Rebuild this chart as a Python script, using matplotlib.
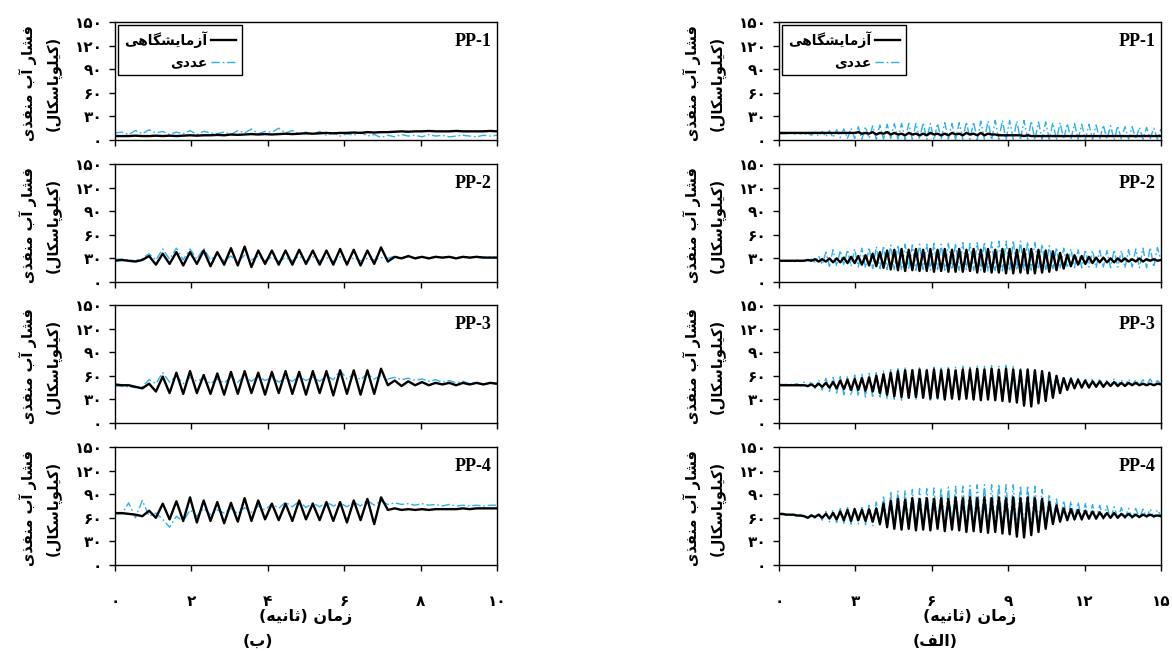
import numpy as np
import matplotlib
matplotlib.use('Agg')
import matplotlib.pyplot as plt
from matplotlib.ticker import FuncFormatter

plt.rcParams['font.family'] = ['DejaVu Sans']

# ---- data (pore water pressure, kPa) ----
# (ب) column: 0-10 s, (الف) column: 0-15 s
pp1_b_exp = [5, 5, 5, 5.5, 5, 5, 5.5, 5, 5.5, 5,
             5.5, 6, 5.5, 6, 6, 6.5, 6, 7, 6.5, 7,
             7.5, 7, 7.5, 7, 7.5, 8, 7.5, 8, 8.5, 8,
             8.5, 9, 8.5, 9, 9, 9.5, 9, 10, 9.5, 10,
             10, 10.5, 11, 10.5, 11, 11, 11.5, 11, 11, 11,
             11.5, 11, 11, 11, 11, 11.5, 11]
pp1_b_num = [9, 10, 7, 12, 8, 13, 9, 11, 7, 10,
             8, 12, 7, 11, 9, 8, 10, 7, 12, 9,
             14, 8, 11, 10, 15, 9, 12, 8, 10, 7,
             11, 6, 9, 5, 8, 6, 10, 5, 7, 3,
             6, 4, 7, 5, 6, 4, 7, 5, 6, 4,
             5, 6, 5, 4, 6, 5, 6]
pp2_b_exp = [27, 28, 27, 26, 28, 33, 22, 36, 23, 38,
             21, 38, 23, 40, 20, 38, 22, 43, 21, 45,
             19, 40, 23, 40, 22, 40, 22, 41, 23, 40,
             22, 40, 22, 42, 22, 41, 21, 40, 23, 44,
             26, 32, 30, 33, 30, 32, 30, 32, 31, 32,
             30, 32, 31, 32, 31, 31, 31]
pp2_b_num = [29, 29, 28, 27, 30, 36, 28, 42, 29, 43,
             28, 42, 29, 43, 28, 36, 27, 33, 26, 34,
             28, 33, 27, 32, 26, 31, 27, 33, 26, 32,
             27, 31, 26, 32, 25, 31, 27, 30, 28, 31,
             30, 33, 31, 32, 31, 32, 31, 32, 31, 32,
             31, 32, 31, 32, 32, 32, 31]
pp3_b_exp = [49, 48, 48, 46, 44, 50, 40, 59, 38, 64,
             37, 66, 38, 61, 37, 63, 36, 65, 37, 66,
             38, 64, 36, 65, 38, 66, 37, 65, 36, 66,
             38, 66, 35, 67, 37, 67, 36, 67, 37, 69,
             48, 54, 47, 53, 48, 52, 48, 51, 49, 51,
             48, 51, 49, 51, 49, 51, 50]
pp3_b_num = [47, 47, 46, 45, 46, 55, 50, 64, 52, 60,
             50, 58, 53, 57, 50, 56, 51, 58, 52, 60,
             53, 59, 54, 58, 52, 57, 53, 59, 54, 58,
             53, 60, 55, 67, 56, 62, 55, 63, 56, 60,
             56, 58, 55, 57, 54, 56, 53, 55, 52, 54,
             51, 53, 50, 52, 49, 51, 49]
pp4_b_exp = [66, 66, 65, 64, 62, 69, 60, 78, 58, 81,
             56, 86, 54, 82, 56, 80, 53, 79, 55, 85,
             56, 82, 58, 78, 57, 78, 56, 82, 58, 78,
             57, 80, 56, 80, 54, 82, 57, 84, 52, 86,
             70, 72, 70, 71, 70, 71, 70, 71, 71, 71,
             71, 72, 71, 72, 72, 72, 72]
pp4_b_num = [65, 65, 79, 60, 82, 62, 66, 58, 48, 62,
             55, 70, 62, 72, 64, 70, 66, 72, 65, 73,
             67, 75, 70, 78, 72, 80, 74, 81, 73, 79,
             74, 80, 75, 79, 74, 80, 75, 82, 76, 81,
             77, 79, 77, 78, 76, 78, 76, 77, 75, 77,
             75, 76, 75, 76, 75, 76, 76]

pp1_a_exp = [9, 9, 9, 9, 9, 9, 9, 9, 9, 9,
             9, 9, 9, 9, 9, 9, 9, 9, 9, 9,
             9, 9, 10, 8, 9, 8, 10, 7, 9, 8,
             10, 7, 9, 7, 8, 6, 9, 7, 8, 6,
             8, 6, 9, 7, 8, 6, 8, 6, 9, 7,
             8, 6, 9, 7, 8, 6, 9, 6, 8, 7,
             7, 6, 6, 6, 6, 6, 6, 6, 5, 6,
             5, 5, 5, 5, 5, 5, 5, 5, 5, 5,
             5, 5, 5, 5, 5, 5, 5, 5, 5, 5,
             5, 5, 5, 5, 5, 5, 5, 5, 5, 5,
             5, 5, 5, 5, 5, 5, 5]
pp1_a_num = [8, 8, 8, 9, 7, 9, 8, 7, 9, 6,
             10, 5, 11, 4, 12, 3, 13, 3, 14, 2,
             15, 2, 17, 1, 17, 2, 18, 1, 19, 1,
             20, 2, 21, 1, 21, 0, 21, 1, 21, 1,
             22, 1, 21, 0, 21, 1, 22, 1, 21, 0,
             22, 1, 23, 1, 23, 0, 24, 1, 24, 0,
             25, 1, 25, 0, 25, 1, 24, 0, 25, 1,
             24, 0, 23, 1, 23, 1, 22, 0, 22, 1,
             21, 1, 21, 1, 20, 0, 20, 1, 19, 1,
             19, 1, 18, 0, 18, 1, 17, 1, 17, 1,
             16, 1, 16, 2, 15, 1, 14]
pp2_a_exp = [27, 27, 27, 27, 27, 27, 27, 27, 28, 27,
             29, 26, 29, 26, 30, 25, 30, 25, 31, 24,
             32, 24, 33, 22, 34, 21, 36, 20, 38, 18,
             40, 16, 41, 15, 42, 14, 41, 15, 42, 14,
             41, 14, 42, 13, 41, 14, 42, 13, 41, 13,
             42, 13, 41, 14, 42, 12, 41, 13, 42, 12,
             41, 12, 42, 11, 42, 11, 41, 12, 42, 11,
             42, 11, 41, 12, 40, 13, 39, 15, 37, 17,
             35, 20, 34, 22, 33, 23, 32, 24, 31, 25,
             31, 25, 30, 25, 30, 26, 30, 26, 29, 26,
             30, 26, 29, 27, 29, 27, 28]
pp2_a_num = [27, 27, 27, 27, 25, 28, 26, 28, 27, 29,
             25, 33, 22, 38, 20, 41, 20, 40, 21, 41,
             20, 42, 19, 43, 18, 44, 17, 45, 17, 46,
             16, 47, 16, 47, 15, 48, 16, 47, 15, 48,
             16, 48, 15, 49, 16, 48, 15, 49, 16, 49,
             15, 50, 16, 49, 15, 50, 15, 51, 14, 51,
             15, 52, 14, 52, 14, 53, 15, 52, 14, 51,
             15, 50, 16, 48, 16, 46, 17, 44, 17, 43,
             18, 42, 18, 41, 18, 41, 19, 40, 18, 40,
             19, 40, 18, 41, 19, 40, 18, 41, 19, 42,
             18, 43, 18, 44, 19, 44, 27]
pp3_a_exp = [48, 48, 48, 48, 48, 48, 48, 48, 47, 49,
             46, 50, 46, 51, 45, 52, 44, 54, 43, 55,
             42, 56, 42, 57, 41, 58, 40, 60, 38, 62,
             36, 64, 34, 66, 33, 67, 32, 67, 33, 68,
             32, 67, 31, 68, 32, 67, 30, 68, 31, 67,
             30, 68, 31, 68, 30, 69, 29, 68, 30, 69,
             29, 68, 28, 69, 27, 68, 26, 67, 22, 68,
             21, 67, 25, 66, 28, 64, 32, 60, 38, 57,
             42, 56, 44, 55, 45, 54, 45, 53, 46, 53,
             46, 52, 47, 52, 47, 51, 47, 51, 48, 51,
             48, 50, 48, 50, 48, 50, 49]
pp3_a_num = [49, 49, 49, 49, 49, 50, 47, 52, 46, 53,
             44, 55, 42, 57, 40, 58, 38, 59, 36, 60,
             35, 61, 34, 62, 33, 63, 32, 64, 31, 66,
             30, 68, 30, 69, 29, 70, 30, 70, 29, 71,
             30, 70, 29, 71, 30, 70, 29, 72, 30, 71,
             29, 72, 30, 71, 29, 73, 30, 72, 29, 73,
             30, 72, 29, 73, 30, 72, 31, 71, 32, 70,
             33, 68, 35, 66, 37, 64, 40, 61, 42, 59,
             44, 58, 45, 57, 46, 57, 46, 56, 47, 56,
             47, 55, 47, 56, 48, 55, 47, 56, 48, 55,
             48, 55, 48, 56, 48, 54, 50]
pp4_a_exp = [65, 65, 64, 64, 64, 63, 63, 62, 60, 63,
             61, 64, 60, 65, 59, 66, 58, 68, 57, 70,
             56, 71, 57, 70, 56, 71, 55, 72, 52, 78,
             48, 82, 46, 84, 45, 83, 46, 85, 44, 84,
             45, 85, 44, 84, 46, 85, 43, 84, 45, 86,
             44, 85, 42, 86, 43, 85, 42, 86, 41, 85,
             42, 86, 40, 85, 39, 86, 36, 85, 35, 86,
             38, 85, 42, 84, 46, 80, 52, 76, 55, 72,
             57, 71, 58, 70, 58, 69, 59, 68, 59, 67,
             60, 66, 60, 66, 60, 65, 61, 65, 61, 64,
             61, 64, 62, 64, 62, 63, 62]
pp4_a_num = [64, 64, 64, 63, 63, 62, 62, 61, 60, 64,
             59, 66, 57, 68, 55, 70, 54, 72, 53, 73,
             52, 74, 52, 75, 51, 76, 50, 80, 49, 88,
             48, 92, 48, 94, 47, 95, 48, 96, 47, 97,
             48, 97, 47, 98, 48, 98, 47, 99, 48, 100,
             47, 100, 48, 101, 47, 102, 48, 102, 47, 102,
             48, 103, 47, 102, 46, 102, 45, 101, 45, 101,
             46, 100, 48, 96, 50, 90, 53, 84, 55, 82,
             56, 81, 57, 80, 57, 78, 58, 77, 58, 76,
             58, 75, 58, 74, 59, 73, 59, 72, 59, 72,
             59, 71, 60, 71, 60, 70, 62]

panel_names = ['PP-1', 'PP-2', 'PP-3', 'PP-4']
col_b = [(pp1_b_exp, pp1_b_num), (pp2_b_exp, pp2_b_num),
         (pp3_b_exp, pp3_b_num), (pp4_b_exp, pp4_b_num)]
col_a = [(pp1_a_exp, pp1_a_num), (pp2_a_exp, pp2_a_num),
         (pp3_a_exp, pp3_a_num), (pp4_a_exp, pp4_a_num)]
t_end_b, t_end_a = 10, 15
xticks_b = [0, 2, 4, 6, 8, 10]
xticks_a = [0, 3, 6, 9, 12, 15]
yticks = [0, 30, 60, 90, 120, 150]

lab_exp = 'آزمایشگاهی'
lab_num = 'عددی'
ylab_1 = 'فشار آب منفذی'
ylab_2 = '(کیلوپاسکال)'
xlab = 'زمان (ثانیه)'
cap_b = '(ب)'
cap_a = '(الف)'

# ---- minimal persian shaping (matplotlib draws no contextual forms) ----
FORMS = {
    'ا': ('\uFE8D', '\uFE8E', None, None),
    'آ': ('\uFE81', '\uFE82', None, None),
    'ب': ('\uFE8F', '\uFE90', '\uFE91', '\uFE92'),
    'پ': ('\uFB56', '\uFB57', '\uFB58', '\uFB59'),
    'ث': ('\uFE99', '\uFE9A', '\uFE9B', '\uFE9C'),
    'د': ('\uFEA9', '\uFEAA', None, None),
    'ذ': ('\uFEAB', '\uFEAC', None, None),
    'ر': ('\uFEAD', '\uFEAE', None, None),
    'ز': ('\uFEAF', '\uFEB0', None, None),
    'س': ('\uFEB1', '\uFEB2', '\uFEB3', '\uFEB4'),
    'ش': ('\uFEB5', '\uFEB6', '\uFEB7', '\uFEB8'),
    'ع': ('\uFEC9', '\uFECA', '\uFECB', '\uFECC'),
    'ف': ('\uFED1', '\uFED2', '\uFED3', '\uFED4'),
    'ک': ('\uFB8E', '\uFB8F', '\uFB90', '\uFB91'),
    'گ': ('\uFB92', '\uFB93', '\uFB94', '\uFB95'),
    'ل': ('\uFEDD', '\uFEDE', '\uFEDF', '\uFEE0'),
    'م': ('\uFEE1', '\uFEE2', '\uFEE3', '\uFEE4'),
    'ن': ('\uFEE5', '\uFEE6', '\uFEE7', '\uFEE8'),
    'ه': ('\uFEE9', '\uFEEA', '\uFEEB', '\uFEEC'),
    'و': ('\uFEED', '\uFEEE', None, None),
    'ی': ('\uFBFC', '\uFBFD', '\uFBFE', '\uFBFF'),
}


def fa(s):
    out = []
    for i, ch in enumerate(s):
        if ch not in FORMS:
            out.append(ch)
            continue
        prev = s[i - 1] if i > 0 else ''
        nxt = s[i + 1] if i + 1 < len(s) else ''
        jp = prev in FORMS and FORMS[prev][2] is not None
        jn = nxt in FORMS and FORMS[ch][2] is not None
        iso, fin, ini, med = FORMS[ch]
        if jp and jn:
            out.append(med)
        elif jp:
            out.append(fin)
        elif jn:
            out.append(ini)
        else:
            out.append(iso)
    vis = ''.join(reversed(out))
    return vis.translate(str.maketrans('()', ')('))


def fa_digits(v, pos=None):
    return str(int(round(v))).translate(str.maketrans('0123456789', '۰۱۲۳۴۵۶۷۸۹'))


BLUE = '#2DB0EC'
W, H = 1172, 651
fig = plt.figure(figsize=(W / 100, H / 100), dpi=100)

ax_w = 382 / W
ax_h = 118 / H
left_x = {'b': 115 / W, 'a': 779 / W}
row_bottom = [1 - 140 / H, 1 - 282 / H, 1 - 423 / H, 1 - 565 / H]

for key, col, t_end, xt in [('b', col_b, t_end_b, xticks_b), ('a', col_a, t_end_a, xticks_a)]:
    for r, (exp, num) in enumerate(col):
        ax = fig.add_axes([left_x[key], row_bottom[r], ax_w, ax_h])
        t_num = np.linspace(0, t_end, len(num))
        t_exp = np.linspace(0, t_end, len(exp))
        ln_num, = ax.plot(t_num, num, color=BLUE, lw=1.0,
                          dashes=(6, 2, 1.2, 2), zorder=2)
        ln_exp, = ax.plot(t_exp, exp, color='black', lw=1.7, zorder=3)
        ax.set_xlim(0, t_end)
        ax.set_ylim(0, 150)
        ax.set_xticks(xt)
        ax.set_yticks(yticks)
        ax.yaxis.set_major_formatter(FuncFormatter(fa_digits))
        ax.xaxis.set_major_formatter(FuncFormatter(fa_digits))
        ax.tick_params(axis='both', direction='out', length=4, width=1, color='black')
        ax.tick_params(axis='y', labelsize=11, pad=5)
        ax.tick_params(axis='x', labelsize=11, pad=17)
        for lbl in ax.get_yticklabels() + ax.get_xticklabels():
            lbl.set_fontweight('bold')
        for sp in ax.spines.values():
            sp.set_linewidth(1.0)
            sp.set_color('black')
        if r < 3:
            ax.tick_params(axis='x', labelbottom=False)
        ax.set_ylabel(fa(ylab_1) + '\n' + fa(ylab_2), fontsize=10.5,
                      fontweight='bold', linespacing=1.7)
        ax.yaxis.set_label_coords(-0.14, 0.48)
        ax.text(0.985, 0.91, panel_names[r], transform=ax.transAxes,
                ha='right', va='top', fontsize=13, fontweight='bold',
                family='Liberation Serif')
        if r == 0:
            leg = ax.legend([ln_exp, ln_num], [fa(lab_exp), fa(lab_num)],
                            loc='upper left', markerfirst=False, fancybox=False,
                            framealpha=1, edgecolor='black', handlelength=1.8,
                            handletextpad=0.3, borderpad=0.4, labelspacing=0.55,
                            borderaxespad=0.25,
                            prop={'size': 10, 'weight': 'bold'})
            leg.get_frame().set_linewidth(1.0)
        if r == 3:
            ax.set_xlabel(fa(xlab), fontsize=11.5, fontweight='bold', labelpad=0)

fig.text(258 / W, 1 - 641 / H, fa(cap_b), ha='center', va='center',
         fontsize=11.5, fontweight='bold')
fig.text(935 / W, 1 - 641 / H, fa(cap_a), ha='center', va='center',
         fontsize=11.5, fontweight='bold')

fig.savefig('out.png', dpi=100)
